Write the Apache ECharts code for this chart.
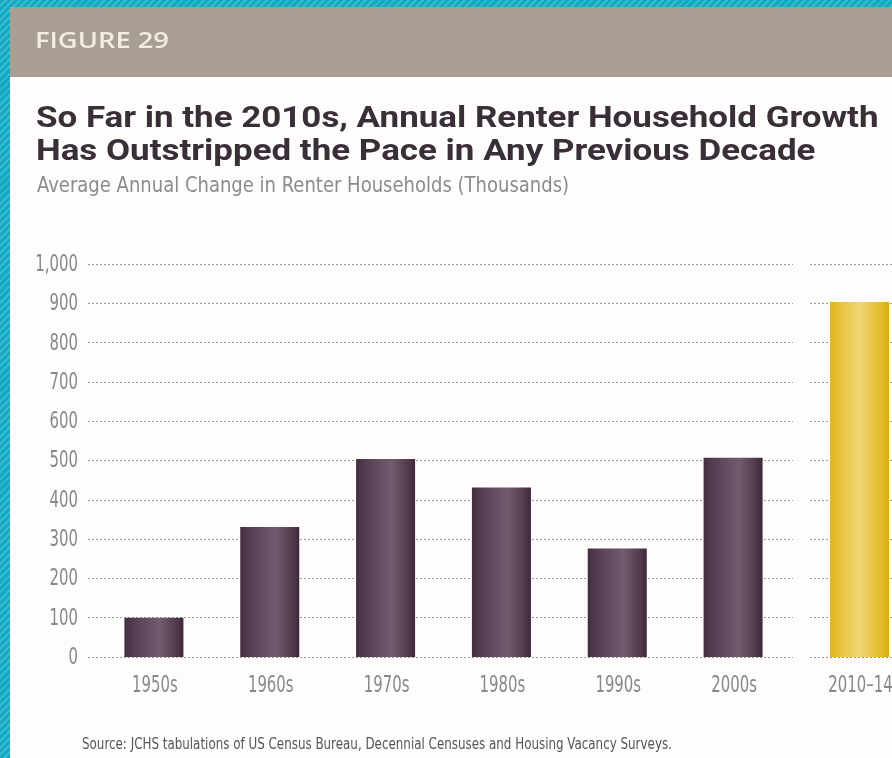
<!DOCTYPE html>
<html>
<head>
<meta charset="utf-8">
<title>Annual Renter Household Growth</title>
<script src="https://cdn.jsdelivr.net/npm/echarts@6/dist/echarts.min.js"></script>
<style>
  html, body { margin: 0; padding: 0; }
  body {
    width: 892px; height: 758px; position: relative; overflow: hidden;
    background: repeating-linear-gradient(135deg, #17a7bf 0px, #17a7bf 3px, #34bcd0 3px, #34bcd0 5px);
  }
  #panel { position: absolute; left: 10px; top: 7px; right: 0; bottom: 0; background: #fefdfb; }
  #chart { position: absolute; left: 0; top: 0; width: 892px; height: 758px; }
</style>
</head>
<body>
<div id="panel"></div>
<div id="chart"></div>
<script>
// Average annual change in renter households, thousands
const decades = ['1950s', '1960s', '1970s', '1980s', '1990s', '2000s'];
const decadeValues = [100, 331, 504, 431, 276, 507];
const recentPeriod = ['2010–14'];
const recentValues = [903];
const yTicks = [0, 100, 200, 300, 400, 500, 600, 700, 800, 900, 1000];

const figureLabel = 'FIGURE 29';
const titleLines = [
  'So Far in the 2010s, Annual Renter Household Growth',
  'Has Outstripped the Pace in Any Previous Decade'
];
const subtitle = 'Average Annual Change in Renter Households (Thousands)';
const sourceNote = 'Source: JCHS tabulations of US Census Bureau, Decennial Censuses and Housing Vacancy Surveys.';

const condensed = "'DejaVu Sans Condensed', sans-serif";
const heavy = "Roboto, 'Open Sans', sans-serif";

const plumGradient = new echarts.graphic.LinearGradient(0, 0, 1, 0, [
  { offset: 0, color: '#432d40' },
  { offset: 0.15, color: '#543d51' },
  { offset: 0.6, color: '#725c6f' },
  { offset: 0.9, color: '#4e3849' },
  { offset: 1, color: '#3c2839' }
]);
const goldGradient = new echarts.graphic.LinearGradient(0, 0, 1, 0, [
  { offset: 0, color: '#e0b41c' },
  { offset: 0.15, color: '#e8c03a' },
  { offset: 0.5, color: '#f0d674' },
  { offset: 0.9, color: '#e3b823' },
  { offset: 1, color: '#d8ab16' }
]);

const splitStyle = { show: true, lineStyle: { color: '#9a9a9a', width: 1, type: [2, 2] } };
const yMin = yTicks[0], yMax = yTicks[yTicks.length - 1], yStep = yTicks[1] - yTicks[0];
const tickColor = '#888888';

const chart = echarts.init(document.getElementById('chart'), null, { renderer: 'canvas' });

const gridBase = { top: 264, bottom: 101, outerBoundsMode: 'none' };

chart.setOption({
  backgroundColor: 'transparent',
  animation: false,
  grid: [
    // value scale and dotted rules for the decades panel
    Object.assign({ left: 88, right: 99 }, gridBase),
    // decade bars
    Object.assign({ left: 96, width: 695 }, gridBase),
    // dotted rules for the 2010–14 panel
    Object.assign({ left: 810, right: 0 }, gridBase),
    // 2010–14 bar
    Object.assign({ left: 830, width: 59 }, gridBase)
  ],
  xAxis: [
    { gridIndex: 0, type: 'value', show: false },
    {
      gridIndex: 1, type: 'category', data: decades,
      axisLine: { show: false }, axisTick: { show: false }, axisLabel: { show: false }
    },
    { gridIndex: 2, type: 'value', show: false },
    {
      gridIndex: 3, type: 'category', data: recentPeriod,
      axisLine: { show: false }, axisTick: { show: false }, axisLabel: { show: false }
    }
  ],
  yAxis: [
    {
      gridIndex: 0, type: 'value', min: yMin, max: yMax, interval: yStep,
      axisLine: { show: false }, axisTick: { show: false }, axisLabel: { show: false },
      splitLine: splitStyle
    },
    { gridIndex: 1, type: 'value', min: yMin, max: yMax, interval: yStep, show: false },
    {
      gridIndex: 2, type: 'value', min: yMin, max: yMax, interval: yStep,
      axisLine: { show: false }, axisTick: { show: false }, axisLabel: { show: false },
      splitLine: splitStyle
    },
    { gridIndex: 3, type: 'value', min: yMin, max: yMax, interval: yStep, show: false }
  ],
  series: [
    {
      type: 'bar', xAxisIndex: 1, yAxisIndex: 1, data: decadeValues,
      barWidth: 59, itemStyle: { color: plumGradient }
    },
    {
      type: 'bar', xAxisIndex: 3, yAxisIndex: 3, data: recentValues,
      barWidth: 59, itemStyle: { color: goldGradient }
    }
  ]
});

// Tick labels in a tall condensed face: placed from the axes' own scales,
// then narrowed horizontally.
const labelFont = "23px " + condensed;
const labelSqueeze = 0.72;
const zeroY = chart.convertToPixel({ yAxisIndex: 0 }, yMin);
const tickTexts = [];
yTicks.forEach(v => {
  tickTexts.push({
    type: 'text', x: 78, y: chart.convertToPixel({ yAxisIndex: 0 }, v) + 1, scaleX: labelSqueeze,
    style: { text: v.toLocaleString('en-US'), fill: tickColor, font: labelFont, textAlign: 'right', textVerticalAlign: 'middle' }
  });
});
decades.forEach(c => {
  tickTexts.push({
    type: 'text', x: chart.convertToPixel({ xAxisIndex: 1 }, c) + 1, y: zeroY + 29, scaleX: labelSqueeze,
    style: { text: c, fill: tickColor, font: labelFont, textAlign: 'center', textVerticalAlign: 'middle' }
  });
});
recentPeriod.forEach(c => {
  tickTexts.push({
    type: 'text', x: chart.convertToPixel({ xAxisIndex: 3 }, c) + 1, y: zeroY + 29, scaleX: labelSqueeze,
    style: { text: c, fill: tickColor, font: labelFont, textAlign: 'center', textVerticalAlign: 'middle' }
  });
});

chart.setOption({
  graphic: [
    { type: 'rect', shape: { x: 10, y: 7, width: 882, height: 70 }, style: { fill: '#a99e92' }, z: 0 },
    { type: 'text', x: 35, y: 42, scaleX: 1.3, style: { text: figureLabel, fill: '#f2ece4', font: "600 21px 'Open Sans', sans-serif", textVerticalAlign: 'middle' } },
    { type: 'text', x: 36, y: 120, scaleX: 1.205, style: { text: titleLines[0], fill: '#3a2e38', font: "bold 29px " + heavy, textVerticalAlign: 'middle' } },
    { type: 'text', x: 36, y: 153, scaleX: 1.205, style: { text: titleLines[1], fill: '#3a2e38', font: "bold 29px " + heavy, textVerticalAlign: 'middle' } },
    { type: 'text', x: 37, y: 186, scaleX: 0.91, style: { text: subtitle, fill: '#8c8c8c', font: "22px " + condensed, textVerticalAlign: 'middle' } },
    { type: 'text', x: 82, y: 745, scaleX: 0.882, style: { text: sourceNote, fill: '#555555', font: "15px " + condensed, textVerticalAlign: 'middle' } }
  ].concat(tickTexts)
});
</script>
</body>
</html>
